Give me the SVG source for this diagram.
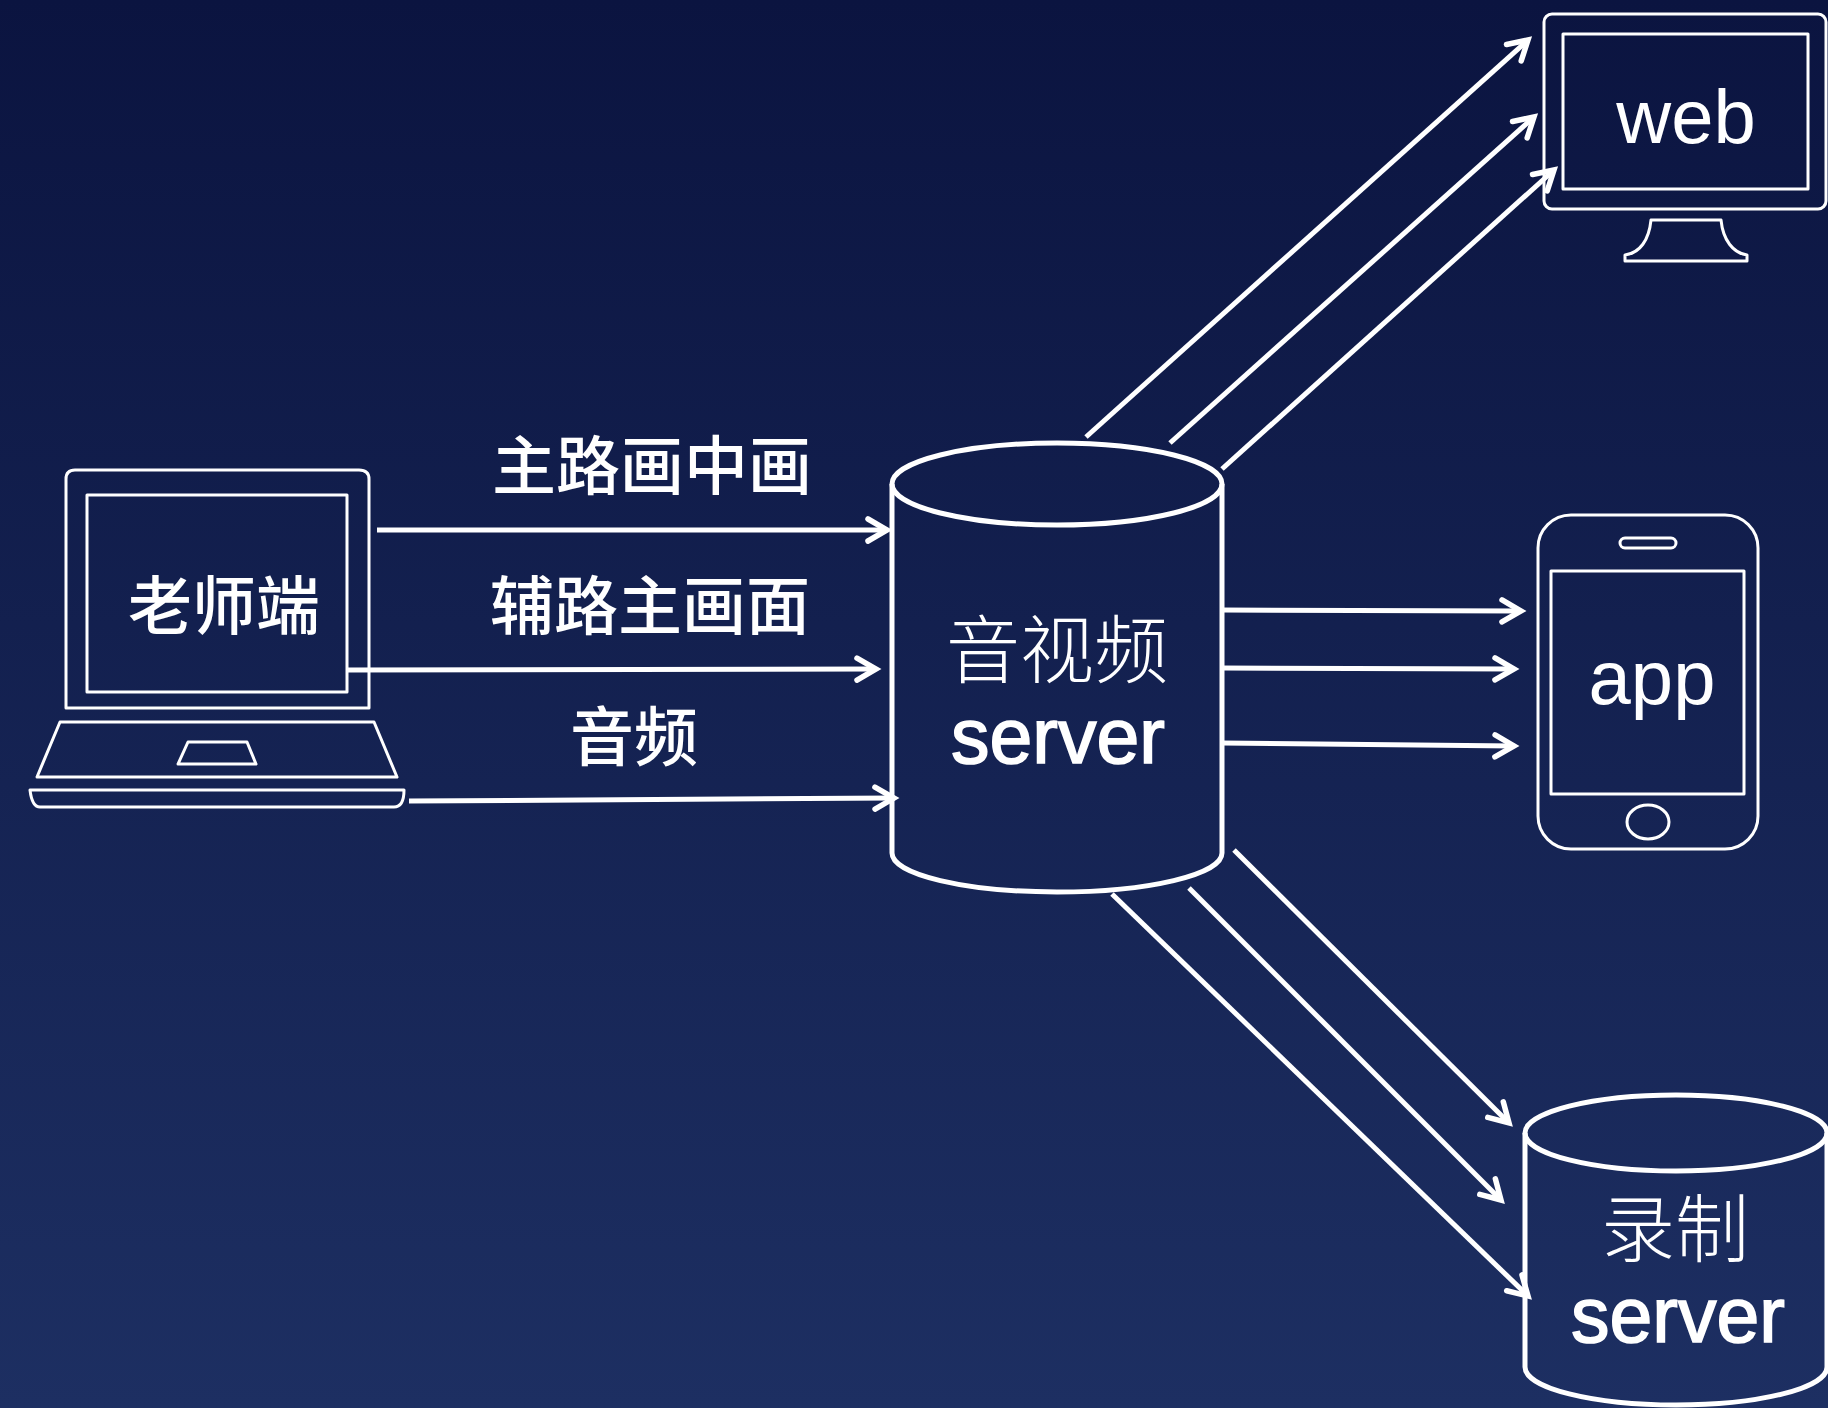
<svg xmlns="http://www.w3.org/2000/svg" width="1828" height="1408" viewBox="0 0 1828 1408">
<defs>
<linearGradient id="bg" x1="0" y1="0" x2="0" y2="1"><stop offset="0" stop-color="#0b1440"/><stop offset="1" stop-color="#1d2f62"/></linearGradient>
<marker id="arrow" markerUnits="userSpaceOnUse" markerWidth="48" markerHeight="48" refX="30" refY="24" orient="auto">
<path d="M11,13 L30,24 L11,35" fill="none" stroke="#fff" stroke-width="5.5" stroke-linecap="round" stroke-linejoin="miter"/>
</marker>
</defs>
<style>
.thin{fill:none;stroke:#fff;stroke-width:3;stroke-linejoin:round}
.thick{fill:none;stroke:#fff;stroke-width:5;stroke-linejoin:round}
.conn{fill:none;stroke:#fff;stroke-width:5;marker-end:url(#arrow)}
text{fill:#fff;text-anchor:middle}
.cjk{font-family:"Noto Sans CJK SC","Noto Sans",sans-serif}
.lat{font-family:"Liberation Sans",Arial,sans-serif;font-size:76px}
.srv{font-family:"Liberation Sans",Arial,sans-serif;font-size:77px;stroke:#fff;stroke-width:1.6}
</style>
<rect width="1828" height="1408" fill="url(#bg)"/>
<g id="connectors">
<path class="conn" d="M377,530 L887,530"/>
<path class="conn" d="M347,670 L876,669"/>
<path class="conn" d="M409,801 L894,798"/>
<path class="conn" d="M1086,437 L1528,40"/>
<path class="conn" d="M1170,443 L1534,117"/>
<path class="conn" d="M1222,469 L1554,170"/>
<path class="conn" d="M1222,610 L1521,611"/>
<path class="conn" d="M1222,668 L1514,669"/>
<path class="conn" d="M1222,743 L1514,746"/>
<path class="conn" d="M1234,850 L1509,1123"/>
<path class="conn" d="M1189,888 L1501,1200"/>
<path class="conn" d="M1112,894 L1528,1296"/>
</g>
<g id="labels">
<text class="cjk" x="652" y="489" font-size="64" font-weight="500">主路画中画</text>
<text class="cjk" x="650" y="629" font-size="64" font-weight="500">辅路主画面</text>
<text class="cjk" x="634" y="760" font-size="64" font-weight="500">音频</text>
</g>
<g id="teacher">
<path class="thin" d="M66,708 V479 Q66,470 75,470 H359 Q369,470 369,479 V708 Z"/>
<rect class="thin" x="87" y="495" width="260" height="197"/>
<path class="thin" d="M37,777 L60,722 H374 L397,777 Z"/>
<path class="thin" d="M178,764 L188,742 H247 L256,764 Z"/>
<path class="thin" d="M30,790 H404 Q404,807 394,807 H40 Q32,807 30,790 Z"/>
<text class="cjk" x="224" y="629" font-size="64" font-weight="500">老师端</text>
</g>
<g id="av-server">
<ellipse class="thick" cx="1057" cy="484" rx="165" ry="41"/>
<path class="thick" d="M892,484 V853 A165,39 0 0 0 1222,853 V484"/>
<text class="cjk" x="1057" y="677" font-size="74" font-weight="300">音视频</text>
<text class="srv" x="1058" y="763">server</text>
</g>
<g id="web">
<rect class="thin" x="1544" y="14" width="282" height="195" rx="8"/>
<rect class="thin" x="1563" y="34" width="245" height="155"/>
<path class="thin" d="M1651,220 H1721 C1723,240 1733,253 1747,255 V261 H1625 V255 C1640,253 1649,240 1651,220 Z"/>
<text class="lat" x="1686" y="143">web</text>
</g>
<g id="app">
<rect class="thin" x="1538" y="515" width="220" height="334" rx="33"/>
<rect class="thin" x="1551" y="571" width="193" height="223"/>
<rect class="thin" x="1620" y="538" width="56" height="10" rx="5"/>
<ellipse class="thin" cx="1648" cy="822" rx="21" ry="17"/>
<text class="lat" x="1652" y="704">app</text>
</g>
<g id="record-server">
<ellipse class="thick" cx="1676" cy="1133" rx="151" ry="38"/>
<path class="thick" d="M1525,1133 V1367 A151,38 0 0 0 1827,1367 V1133"/>
<text class="cjk" x="1675" y="1256" font-size="74" font-weight="300">录制</text>
<text class="srv" x="1678" y="1342">server</text>
</g>
</svg>
